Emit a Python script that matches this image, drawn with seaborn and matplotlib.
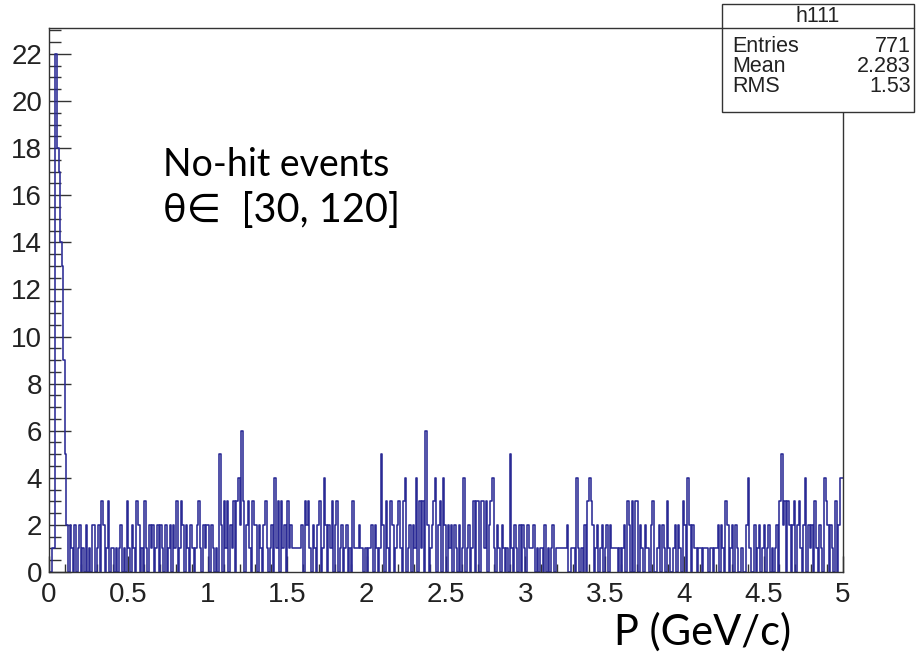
import numpy as np
import pandas as pd
import matplotlib
matplotlib.use("Agg")
import matplotlib.pyplot as plt
import seaborn as sns
from matplotlib.ticker import MultipleLocator
from matplotlib.patches import Rectangle

# Momentum histogram h111: 500 bins between 0 and 5 GeV/c
p_min, p_max, n_bins = 0.0, 5.0, 500
counts = [
    0, 0, 1, 1, 22, 18, 17, 14, 13, 9,
    5, 2, 0, 2, 1, 0, 2, 0, 1, 2,
    0, 1, 0, 2, 0, 1, 0, 2, 2, 0,
    1, 2, 0, 3, 2, 0, 1, 3, 0, 1,
    1, 0, 1, 0, 1, 2, 0, 1, 0, 3,
    1, 0, 2, 1, 0, 3, 2, 0, 1, 0,
    3, 1, 0, 2, 1, 2, 0, 1, 2, 0,
    2, 1, 0, 2, 0, 1, 2, 0, 2, 1,
    3, 0, 1, 3, 2, 0, 2, 1, 0, 2,
    1, 0, 1, 2, 3, 1, 0, 2, 1, 2,
    2, 0, 2, 1, 0, 1, 0, 5, 2, 0,
    3, 1, 3, 0, 2, 1, 3, 0, 3, 4,
    2, 6, 3, 0, 2, 3, 1, 0, 3, 2,
    2, 0, 2, 1, 0, 2, 3, 1, 0, 1,
    2, 0, 4, 1, 3, 0, 3, 1, 2, 0,
    3, 1, 2, 1, 1, 1, 1, 1, 1, 2,
    0, 3, 2, 3, 1, 0, 2, 1, 0, 2,
    3, 0, 1, 4, 2, 0, 2, 1, 3, 0,
    2, 3, 0, 1, 2, 0, 1, 2, 0, 1,
    0, 3, 1, 1, 1, 2, 1, 1, 0, 1,
    0, 1, 1, 2, 0, 2, 1, 0, 1, 5,
    2, 0, 3, 1, 0, 3, 2, 0, 1, 2,
    3, 1, 0, 3, 4, 0, 1, 2, 0, 2,
    1, 4, 0, 3, 1, 3, 0, 6, 2, 0,
    1, 2, 3, 4, 0, 2, 3, 0, 4, 2,
    0, 2, 1, 2, 0, 2, 1, 0, 2, 0,
    1, 4, 0, 1, 2, 0, 1, 3, 0, 3,
    3, 0, 3, 3, 1, 3, 0, 2, 3, 4,
    1, 0, 2, 1, 0, 2, 1, 0, 1, 0,
    5, 1, 0, 2, 1, 0, 2, 0, 2, 1,
    0, 2, 1, 1, 1, 2, 0, 1, 0, 1,
    1, 0, 2, 0, 1, 0, 1, 2, 0, 1,
    1, 1, 1, 1, 1, 1, 2, 0, 0, 1,
    1, 0, 4, 1, 0, 1, 0, 2, 0, 3,
    4, 3, 2, 0, 1, 2, 0, 1, 2, 0,
    1, 2, 0, 2, 1, 1, 1, 1, 0, 1,
    0, 1, 2, 0, 3, 2, 0, 3, 0, 3,
    3, 0, 2, 1, 0, 2, 1, 1, 0, 2,
    3, 0, 0, 1, 2, 0, 2, 1, 0, 3,
    1, 0, 0, 1, 2, 0, 2, 1, 0, 3,
    2, 0, 4, 2, 0, 2, 1, 1, 0, 1,
    1, 0, 1, 1, 1, 0, 1, 1, 0, 1,
    1, 2, 0, 2, 1, 0, 3, 2, 0, 1,
    2, 0, 2, 1, 0, 0, 1, 0, 0, 2,
    4, 1, 0, 0, 2, 0, 1, 2, 0, 1,
    2, 0, 1, 2, 0, 1, 0, 1, 2, 0,
    3, 5, 2, 3, 0, 3, 2, 0, 2, 3,
    0, 2, 3, 1, 0, 2, 4, 0, 2, 1,
    2, 0, 3, 1, 0, 2, 1, 0, 4, 3,
    2, 0, 2, 1, 0, 3, 0, 2, 4, 4,
]
x_ticks = [0, 0.5, 1, 1.5, 2, 2.5, 3, 3.5, 4, 4.5, 5]
x_tick_labels = ["0", "0.5", "1", "1.5", "2", "2.5", "3", "3.5", "4", "4.5", "5"]
y_ticks = list(range(0, 24, 2))

stats_title = "h111"
stats_rows = [("Entries", "771"), ("Mean", "2.283"), ("RMS", "1.53")]

edges = np.linspace(p_min, p_max, n_bins + 1)
centers = 0.5 * (edges[:-1] + edges[1:])
df = pd.DataFrame({"p": centers, "n": np.asarray(counts, dtype=float)})

sns.set_theme(style="white")
plt.rcParams["font.family"] = ["Liberation Sans", "DejaVu Sans"]

fig = plt.figure(figsize=(9.16, 6.57), dpi=100)
ax = fig.add_axes([49 / 916, 1 - 572 / 657, (843 - 49) / 916, (572 - 28) / 657])

sns.histplot(data=df, x="p", weights="n", bins=n_bins, binrange=(p_min, p_max),
             element="step", fill=False, color="#2a2a95", linewidth=1.15, ax=ax)

ax.set_xlim(p_min, p_max)
ax.set_ylim(0, 23.1)
ax.set_xlabel("")
ax.set_ylabel("")
for s in ax.spines.values():
    s.set_color("#333333")
    s.set_linewidth(1.0)

ax.set_xticks(x_ticks)
ax.set_xticklabels(x_tick_labels)
ax.set_yticks(y_ticks)
ax.xaxis.set_minor_locator(MultipleLocator(0.1))
ax.yaxis.set_minor_locator(MultipleLocator(0.5))
ax.tick_params(axis="both", which="both", direction="in", colors="#333333",
               labelcolor="#222222", labelsize=20, width=1.0,
               bottom=True, left=True, top=False, right=False)
ax.tick_params(axis="y", which="major", length=16, pad=5)
ax.tick_params(axis="y", which="minor", length=8.5)
ax.tick_params(axis="x", which="major", length=11.5, pad=7)
ax.tick_params(axis="x", which="minor", length=6)

# annotation text
txt_font = ["Lato", "DejaVu Sans"]
fig.text(163 / 916, 1 - 165 / 657, "No-hit events", fontsize=27, family=txt_font,
         va="center", ha="left", color="black")
fig.text(163 / 916, 1 - 210 / 657, "θ∈  [30, 120]", fontsize=28.5, family=txt_font,
         va="center", ha="left", color="black")
fig.text(614 / 916, 1 - 632 / 657, "P (GeV/c)", fontsize=30, family=txt_font,
         va="center", ha="left", color="black")

# statistics box
bx0, bx1, by0, by1, bsep = 722, 914, 4, 112, 28
fig.patches.append(Rectangle((bx0 / 916, 1 - by1 / 657), (bx1 - bx0) / 916, (by1 - by0) / 657,
                             transform=fig.transFigure, facecolor="white",
                             edgecolor="#333333", linewidth=1.0, zorder=5))
fig.add_artist(plt.Line2D([bx0 / 916, bx1 / 916], [1 - bsep / 657, 1 - bsep / 657],
                          transform=fig.transFigure, color="#333333", linewidth=1.0, zorder=6))
fig.text((bx0 + bx1) / 2 / 916, 1 - 17 / 657, stats_title, fontsize=15.5,
         ha="center", va="center", color="#222222", zorder=7)
for i, (k, v) in enumerate(stats_rows):
    yy = 1 - (47 + 19.5 * i) / 657
    fig.text((bx0 + 10) / 916, yy, k, fontsize=15.5, ha="left", va="center",
             color="#222222", zorder=7)
    fig.text((bx1 - 3) / 916, yy, v, fontsize=15.5, ha="right", va="center",
             color="#222222", zorder=7)

fig.savefig("out.png", dpi=100, facecolor="white")
